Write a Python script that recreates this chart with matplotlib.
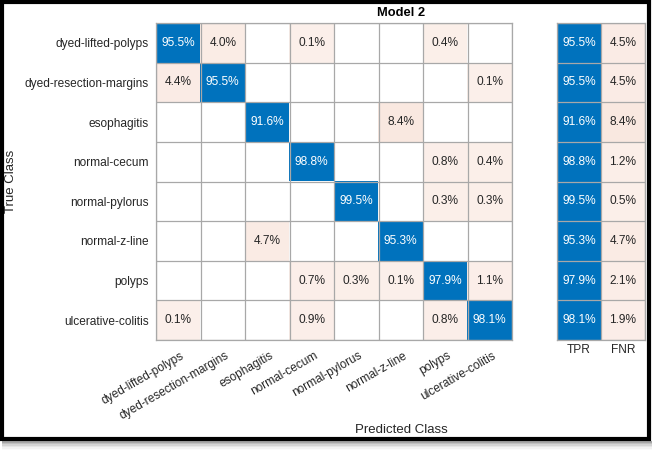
import numpy as np
import matplotlib
matplotlib.use("Agg")
import matplotlib.pyplot as plt
from matplotlib.patches import Rectangle
from matplotlib.transforms import ScaledTranslation

plt.rcParams['font.family'] = ['Liberation Sans', 'DejaVu Sans']

# === DATA ===
classes = ["dyed-lifted-polyps", "dyed-resection-margins", "esophagitis", "normal-cecum",
           "normal-pylorus", "normal-z-line", "polyps", "ulcerative-colitis"]

# row-normalised confusion matrix, % (rows = true class, cols = predicted class)
row_dlp = [95.5, 4.0, 0, 0.1, 0, 0, 0.4, 0]
row_drm = [4.4, 95.5, 0, 0, 0, 0, 0, 0.1]
row_eso = [0, 0, 91.6, 0, 0, 8.4, 0, 0]
row_cec = [0, 0, 0, 98.8, 0, 0, 0.8, 0.4]
row_pyl = [0, 0, 0, 0, 99.5, 0, 0.3, 0.3]
row_zln = [0, 0, 4.7, 0, 0, 95.3, 0, 0]
row_pol = [0, 0, 0, 0.7, 0.3, 0.1, 97.9, 1.1]
row_ulc = [0.1, 0, 0, 0.9, 0, 0, 0.8, 98.1]

tpr = [95.5, 95.5, 91.6, 98.8, 99.5, 95.3, 97.9, 98.1]
fnr = [4.5, 4.5, 8.4, 1.2, 0.5, 4.7, 2.1, 1.9]
summary_labels = ["TPR", "FNR"]

cm = np.array([row_dlp, row_drm, row_eso, row_cec, row_pyl, row_zln, row_pol, row_ulc])
summ = np.column_stack([tpr, fnr])

BLUE = np.array([0, 114, 189]) / 255
ORANGE = np.array([217, 83, 25]) / 255
GRID = "#a8a8a8"
TXT = "#262626"


def cell_color(v, good):
    if v <= 0:
        return np.ones(3)
    if good:
        a = min(1.0, 0.1 + v / 100)
        return (1 - a) + a * BLUE
    a = 0.09 + 0.5 * v / 100
    return (1 - a) + a * ORANGE


def draw_cells(ax, vals, good_mask):
    n_r, n_c = vals.shape
    rgb = np.zeros((n_r, n_c, 3))
    for i in range(n_r):
        for j in range(n_c):
            rgb[i, j] = cell_color(vals[i, j], good_mask[i, j])
    ax.imshow(rgb, aspect="auto", interpolation="nearest",
              extent=(-0.5, n_c - 0.5, n_r - 0.5, -0.5))
    for i in range(n_r):
        for j in range(n_c):
            v = vals[i, j]
            if v > 0:
                ax.text(j, i, f"{v:.1f}%", ha="center", va="center", fontsize=8.6,
                        color="white" if good_mask[i, j] else TXT)
    for k in range(n_c + 1):
        ax.axvline(k - 0.5, color=GRID, lw=0.9)
    for k in range(n_r + 1):
        ax.axhline(k - 0.5, color=GRID, lw=0.9)
    for s in ax.spines.values():
        s.set_color(GRID)
        s.set_linewidth(0.9)
    ax.set_xlim(-0.5, n_c - 0.5)
    ax.set_ylim(n_r - 0.5, -0.5)
    ax.tick_params(length=0, colors=TXT, labelsize=8.6)


W, H = 654, 453
fig = plt.figure(figsize=(W / 100, H / 100), dpi=100)

# main matrix
ax = fig.add_axes([156 / W, 1 - 340 / H, 356 / W, 317 / H])
n = len(classes)
draw_cells(ax, cm, np.eye(n, dtype=bool))
ax.set_yticks(range(n))
ax.set_yticklabels(classes)
ax.tick_params(axis="y", pad=5)
ax.set_xticks(range(n))
ax.set_xticklabels(classes, rotation=30, ha="right", va="top", rotation_mode="anchor")
ax.tick_params(axis="x", pad=7)
shift = ScaledTranslation(2 / 100, 0, fig.dpi_scale_trans)
for lab in ax.get_xticklabels():
    lab.set_transform(lab.get_transform() + shift)

# row summary
ax2 = fig.add_axes([557 / W, 1 - 340 / H, 88 / W, 317 / H])
good = np.zeros(summ.shape, dtype=bool)
good[:, 0] = True
draw_cells(ax2, summ, good)
ax2.set_yticks([])
ax2.set_xticks(range(len(summary_labels)))
ax2.set_xticklabels(summary_labels)
ax2.tick_params(axis="x", pad=3)

# labels
fig.text(401 / W, 1 - 13 / H, "Model 2", ha="center", va="center",
         fontsize=9.3, fontweight="bold", color="black")
fig.text(401 / W, 1 - 430 / H, "Predicted Class", ha="center", va="center",
         fontsize=9.5, color=TXT)
fig.text(11 / W, 1 - 181 / H, "True Class", ha="center", va="center",
         rotation=90, fontsize=9.5, color=TXT)

# black frame + drop shadow
for k, a in enumerate([0.35, 0.25, 0.17, 0.1, 0.05, 0.02]):
    y = H - 441 - 1.5 * (k + 1)
    fig.add_artist(Rectangle((2 / W, y / H), 650 / W, 1.5 / H, transform=fig.transFigure,
                             facecolor="black", edgecolor="none", alpha=a))
fig.add_artist(Rectangle((2 / W, (H - 439) / H), 647 / W, 437.5 / H,
                         transform=fig.transFigure, fill=False, edgecolor="black", lw=3.0))

fig.savefig("out.png", dpi=100)
